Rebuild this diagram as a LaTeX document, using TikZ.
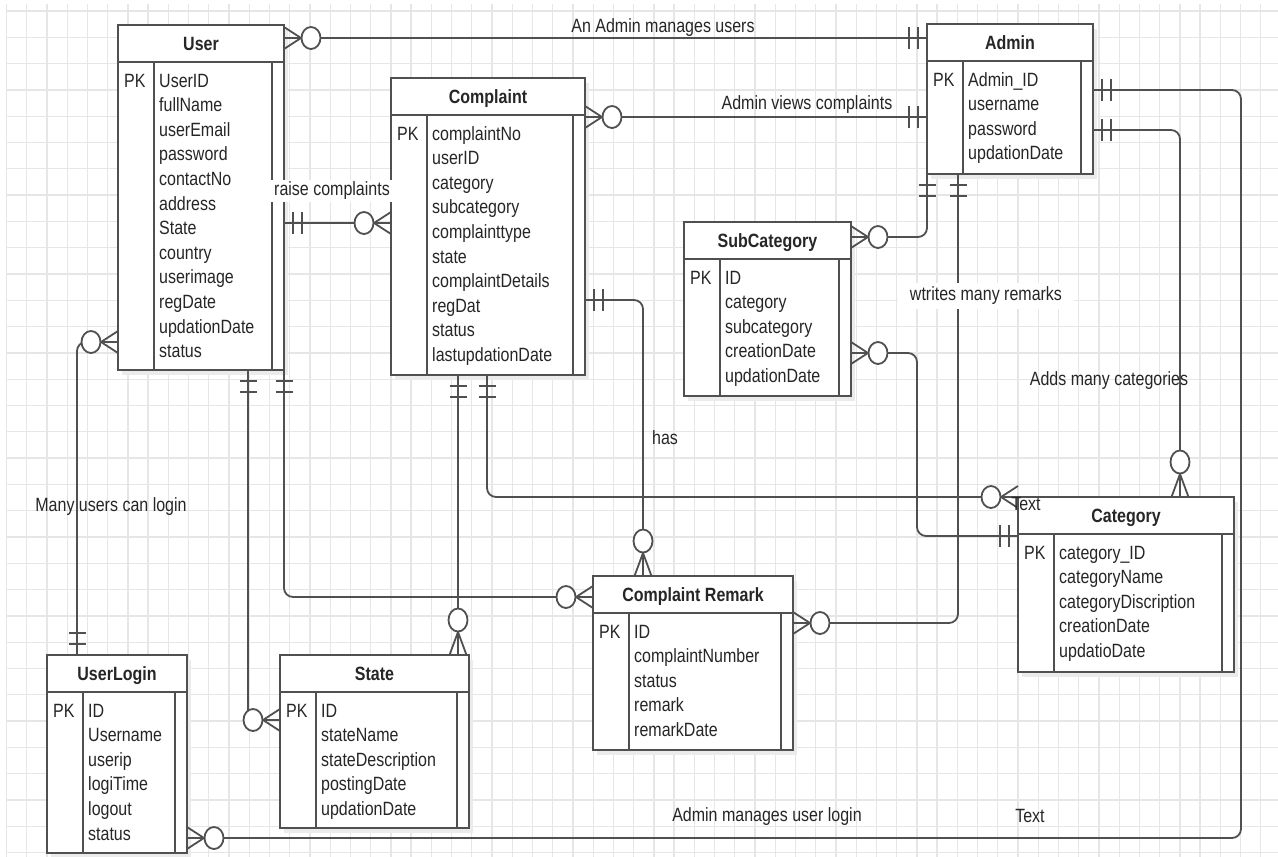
\documentclass[tikz,border=0pt]{standalone}
\usepackage{fontspec}
\setmainfont{Liberation Sans}
\usetikzlibrary{calc}
\pgfdeclarelayer{gridlayer}
\pgfdeclarelayer{shadowlayer}
\pgfdeclarelayer{connlayer}
\pgfsetlayers{gridlayer,shadowlayer,connlayer,main}
\definecolor{ln}{HTML}{505050}
\definecolor{gridc}{HTML}{E6E6E6}
\definecolor{txt}{HTML}{262626}
\definecolor{shd}{HTML}{EBEBEB}
\newcommand{\vsc}[1]{\scalebox{1}[1.2]{#1}}
\newcommand{\attrlist}[1]{\scalebox{1}[1.2]{\begin{tabular}[t]{@{}l@{}}#1\end{tabular}}}
\tikzset{
  lbl/.style={font=\fontsize{16}{20.5}\selectfont, text=txt, inner sep=0pt},
  ent/.style={draw=ln, line width=1.8pt, fill=white, inner sep=0pt, outer sep=0pt, rectangle},
  box/.style={draw=ln, line width=1.8pt},
  conn/.style={draw=ln, line width=1.8pt, rounded corners=9pt},
  mk/.style={draw=ln, line width=1.8pt},
  gridl/.style={draw=gridc, line width=1.3pt},
  zmR/.pic={\draw[mk] (0,-11) -- (17,0) -- (0,11); \draw[mk,fill=white] (27,0) ellipse [x radius=9.5, y radius=11];},
  zmL/.pic={\draw[mk] (0,-11) -- (-17,0) -- (0,11); \draw[mk,fill=white] (-27,0) ellipse [x radius=9.5, y radius=11];},
  zmU/.pic={\draw[mk] (-8.5,0) -- (0,-23) -- (8.5,0); \draw[mk,fill=white] (0,-35) ellipse [x radius=9.5, y radius=11.5];},
  bbR/.pic={\draw[mk] (9,-11) -- (9,11) (18,-11) -- (18,11);},
  bbL/.pic={\draw[mk] (-9,-11) -- (-9,11) (-18,-11) -- (-18,11);},
  bbD/.pic={\draw[mk] (-8.5,11) -- (8.5,11) (-8.5,22) -- (8.5,22);},
  bbU/.pic={\draw[mk] (-8.5,-11) -- (8.5,-11) (-8.5,-22) -- (8.5,-22);},
}
% \entity{name}{left}{top}{right}{bottom}{title}{attributes}
\newcommand{\entity}[7]{%
  \begin{pgfonlayer}{shadowlayer}
    \fill[shd] (#2+4,#3+5) rectangle (#4+4,#5+5);
  \end{pgfonlayer}
  \node[ent, minimum width={#4-#2}, minimum height={#5-#3}] (#1) at ({(#2+#4)/2},{(#3+#5)/2}) {};
  \draw[box] (#2,#3+37) -- (#4,#3+37);
  \draw[box] (#2+36,#3+37) -- (#2+36,#5);
  \draw[box] (#4-12,#3+37) -- (#4-12,#5);
  \node[lbl, anchor=base] (#1-title) at ({(#2+#4)/2},#3+25.3) {\vsc{\bfseries #6}};
  \node[lbl, anchor=base west] (#1-pk) at (#2+6,#3+62) {\vsc{PK}};
  \node[lbl, anchor=base west] (#1-attrs) at (#2+41,#3+62) {\attrlist{#7}};
}
\begin{document}
\begin{tikzpicture}[x=1pt,y=-1pt]
\useasboundingbox (0,0) rectangle (1278,857);
\begin{pgfonlayer}{gridlayer}
\fill[white] (0,0) rectangle (1278,857);
\foreach \i in {0,...,62} \draw[gridl] ({6.5+20.23*\i},4) -- ({6.5+20.23*\i},857);
\foreach \j in {0,...,32} \draw[gridl] (6,{11+26.3*\j}) -- (1278,{11+26.3*\j});
\end{pgfonlayer}
% entities
\entity{user}{118}{25}{284}{370}{User}{UserID\\fullName\\userEmail\\password\\contactNo\\address\\State\\country\\userimage\\regDate\\updationDate\\status}
\entity{complaint}{391}{78}{585}{375}{Complaint}{complaintNo\\userID\\category\\subcategory\\complainttype\\state\\complaintDetails\\regDat\\status\\lastupdationDate}
\entity{admin}{927}{24}{1093}{174}{Admin}{Admin\_ID\\username\\password\\updationDate}
\entity{subcategory}{684}{222}{851}{396}{SubCategory}{ID\\category\\subcategory\\creationDate\\updationDate}
\entity{category}{1018}{497}{1234}{672}{Category}{category\_ID\\categoryName\\categoryDiscription\\creationDate\\updatioDate}
\entity{cremark}{593}{576}{793}{750}{Complaint Remark}{ID\\complaintNumber\\status\\remark\\remarkDate}
\entity{state}{280}{655}{469}{828}{State}{ID\\stateName\\stateDescription\\postingDate\\updationDate}
\entity{userlogin}{47}{655}{187}{853}{UserLogin}{ID\\Username\\userip\\logiTime\\logout\\status}
% connectors (below the entity boxes)
\begin{pgfonlayer}{connlayer}
\draw[conn] (user.east |- 0,38) -- (admin.west |- 0,38);
\draw[conn] (complaint.east |- 0,117) -- (admin.west |- 0,117);
\draw[conn] (user.east |- 0,223) -- (complaint.west |- 0,223);
\draw[conn] (77,0 |- userlogin.north) |- (user.west |- 0,342);
\draw[conn] (admin.east |- 0,90) -| (1241,838) -- (userlogin.east |- 0,838);
\draw[conn] (admin.east |- 0,130) -| (1180,0 |- category.north);
\draw[conn] (admin.south west) |- (subcategory.east |- 0,237);
\draw[conn] (958,0 |- admin.south) |- (cremark.east |- 0,623);
\draw[conn] (subcategory.east |- 0,353) -| (917,536) -- (category.west |- 0,536);
\draw[conn] (complaint.east |- 0,300) -| (643,0 |- cremark.north);
\draw[conn] (458,0 |- complaint.south) -- (458,0 |- state.north);
\draw[conn] (487,0 |- complaint.south) |- (category.north west);
\draw[conn] (248,0 |- user.south) |- (state.west |- 0,720);
\draw[conn] (user.south east) |- (cremark.west |- 0,597);
% cardinality markers
\pic at (user.east |- 0,38) {zmR}; \pic at (admin.west |- 0,38) {bbL};
\pic at (complaint.east |- 0,117) {zmR}; \pic at (admin.west |- 0,117) {bbL};
\pic at (user.east |- 0,223) {bbR}; \pic at (complaint.west |- 0,223) {zmL};
\pic at (77,0 |- userlogin.north) {bbU}; \pic at (user.west |- 0,342) {zmL};
\pic at (admin.east |- 0,90) {bbR}; \pic at (userlogin.east |- 0,838) {zmR};
\pic at (admin.east |- 0,130) {bbR}; \pic at (1180,0 |- category.north) {zmU};
\pic at (admin.south west) {bbD}; \pic at (subcategory.east |- 0,237) {zmR};
\pic at (958,0 |- admin.south) {bbD}; \pic at (cremark.east |- 0,623) {zmR};
\pic at (subcategory.east |- 0,353) {zmR}; \pic at (category.west |- 0,536) {bbL};
\pic at (complaint.east |- 0,300) {bbR}; \pic at (643,0 |- cremark.north) {zmU};
\pic at (458,0 |- complaint.south) {bbD}; \pic at (458,0 |- state.north) {zmU};
\pic at (487,0 |- complaint.south) {bbD}; \pic at (category.north west) {zmL};
\pic at (248,0 |- user.south) {bbD}; \pic at (state.west |- 0,720) {zmL};
\pic at (user.south east) {bbD}; \pic at (cremark.west |- 0,597) {zmL};
\end{pgfonlayer}
% labels
\node[lbl] (l1) at (663,28) {\vsc{An Admin manages users}};
\node[lbl] (l2) at (807,105) {\vsc{Admin views complaints}};
\node[lbl, fill=white, inner xsep=3pt, inner ysep=2pt] (l3) at (332,191) {\vsc{raise complaints}};
\node[lbl, fill=white, inner xsep=12pt, inner ysep=4pt] (l4) at (986,296) {\vsc{wtrites many remarks}};
\node[lbl] (l5) at (1109,381) {\vsc{Adds many categories}};
\node[lbl] (l6) at (665,438) {\vsc{has}};
\node[lbl] (l7) at (111,507) {\vsc{Many users can login}};
\node[lbl] (l8) at (767,817) {\vsc{Admin manages user login}};
\node[lbl] (l9) at (1030,816) {\vsc{Text}};
\node[lbl] (l10) at (1026,504) {\vsc{Text}};
\end{tikzpicture}
\end{document}
